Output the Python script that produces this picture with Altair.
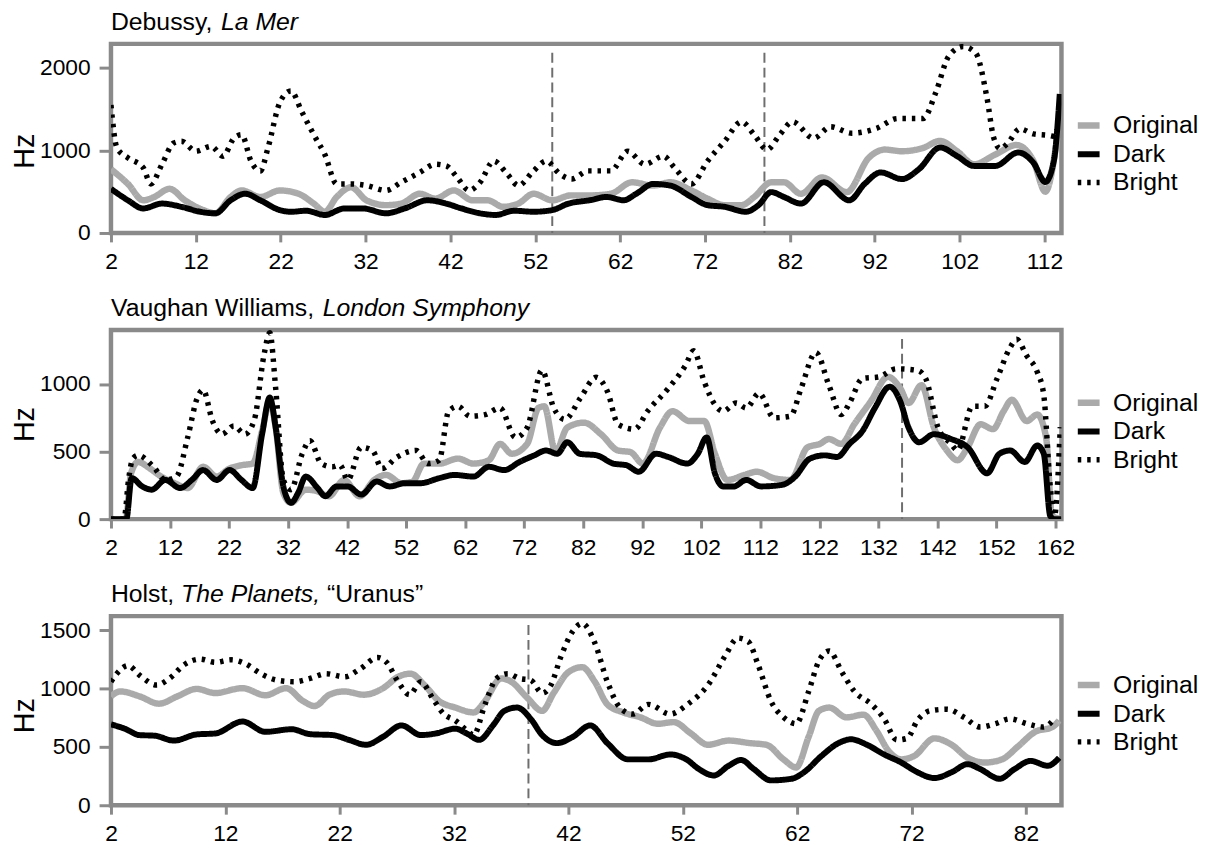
import altair as alt
import pandas as pd

SERIES = ["Original", "Dark", "Bright"]
COLORS = ["#aaaaaa", "#000000", "#000000"]
WIDTHS = [6.5, 5.5, 3.5]
DASHES = [[1, 0], [1, 0], [3.5, 6]]

# ---------------- Debussy, La Mer ----------------
P1_ORIG_X = [2, 4, 5.8, 7.1, 8.9, 10.7, 12.9, 14.3, 16.1, 17.4, 19.6, 21.9, 24.1, 25.9, 27.2, 28.6, 30.3, 32.1, 34.4, 36.2, 38.4, 40.2, 42.4, 44.6, 46.4, 48.2, 50, 51.8, 54, 56.2, 58.4, 60.9, 63.4, 65.9, 67.9, 70.4, 72.3, 74.3, 76.3, 77.8, 79.8, 81.3, 83.3, 85.8, 88.7, 91.3, 93.2, 95.2, 97.7, 99.7, 101.7, 103.7, 106.2, 108.7, 110.7, 112.1, 113.5]
P1_ORIG_Y = [772, 594, 396, 436, 535, 396, 277, 238, 436, 515, 436, 515, 475, 356, 257, 436, 554, 396, 337, 356, 475, 416, 515, 396, 396, 317, 356, 475, 396, 455, 455, 475, 614, 574, 614, 515, 416, 337, 337, 436, 614, 614, 475, 673, 495, 911, 1010, 990, 1030, 1115, 990, 832, 950, 1065, 871, 500, 1150]
P1_DARK_X = [2, 4, 5.8, 8, 10.3, 12.5, 14.3, 16.1, 17.8, 19.6, 21.9, 23.2, 25, 27.2, 29.5, 31.7, 34.4, 36.6, 39.3, 41.5, 43.3, 45.5, 47.3, 49.5, 51.8, 54, 55.9, 58.4, 60.4, 62.4, 63.9, 65.9, 67.9, 70.4, 72.3, 74.3, 76.8, 78.3, 79.8, 81.3, 83.3, 86, 89, 90.8, 92.7, 95.2, 97.2, 99.7, 101.7, 103.7, 106.2, 108.9, 110.7, 112.1, 113.1, 113.8]
P1_DARK_Y = [535, 396, 297, 356, 317, 257, 238, 396, 475, 396, 277, 257, 269, 218, 297, 297, 238, 297, 396, 356, 297, 238, 218, 269, 257, 277, 356, 396, 436, 396, 475, 594, 574, 436, 337, 317, 257, 337, 495, 436, 356, 614, 396, 594, 733, 653, 772, 1035, 931, 812, 812, 975, 850, 618, 871, 1683]
P1_BRIGHT_X = [2, 2.7, 4, 5.8, 6.7, 8, 9.4, 10.3, 12, 13.8, 15.2, 16.5, 17.4, 18.5, 19.6, 20.5, 21.9, 23.2, 24.5, 25.9, 27.2, 28.6, 30.3, 32.1, 34.4, 36.2, 38.4, 40.2, 41.5, 42.8, 44.2, 45.5, 47.1, 48.7, 50, 51.8, 53.3, 54.9, 56.3, 58.2, 60.9, 62.9, 64.9, 67.1, 68.4, 70.4, 72.3, 74.3, 76.3, 77.8, 79.3, 80.8, 82.3, 84.8, 86.8, 89.3, 92.2, 94.7, 97.7, 99.2, 100.7, 102.4, 103.9, 105.2, 106, 106.8, 107.6, 109.1, 110.7, 112.6, 113.8]
P1_BRIGHT_Y = [1550, 1030, 910, 790, 594, 830, 1090, 1110, 990, 1050, 930, 1150, 1190, 870, 750, 1030, 1580, 1720, 1465, 1190, 950, 594, 594, 575, 515, 614, 733, 832, 812, 673, 515, 614, 871, 713, 574, 752, 871, 713, 653, 752, 752, 990, 832, 930, 792, 594, 871, 1109, 1346, 1188, 1010, 1188, 1346, 1148, 1287, 1208, 1267, 1386, 1386, 1703, 2138, 2257, 2178, 1650, 1160, 1020, 1080, 1261, 1200, 1180, 1150]
P1_VLINES = [54, 79]

# ---------------- Vaughan Williams, London Symphony ----------------
P2_ORIG_X = [2, 4.5, 5.4, 6.6, 8.6, 10.5, 12.8, 15, 17.6, 19.9, 22.1, 24.1, 26, 27.6, 28.9, 29.9, 31.2, 32.5, 35, 37, 38.9, 41.5, 44.1, 46.6, 48.6, 51.2, 53.1, 55, 57.6, 60.8, 63.4, 66, 67.9, 69.9, 72.5, 74.4, 75.4, 77.3, 79.3, 82.1, 85, 87.9, 90, 92.1, 95, 97.1, 100, 102.5, 104.3, 106.4, 109.3, 111.4, 114.3, 117.1, 120, 122.1, 123.6, 125.7, 127.9, 130.7, 133.6, 135.7, 137.1, 139.3, 141.4, 143.6, 145.4, 147.1, 149.3, 151.4, 153.2, 154.6, 157.1, 158.9, 160.4, 161.4, 163]
P2_ORIG_Y = [0, 0, 339, 423, 375, 315, 266, 230, 387, 315, 375, 399, 411, 653, 871, 678, 194, 121, 218, 206, 169, 290, 169, 290, 327, 266, 278, 411, 411, 448, 411, 436, 557, 484, 557, 823, 835, 500, 678, 714, 629, 508, 496, 411, 678, 799, 726, 726, 484, 290, 327, 351, 303, 290, 532, 557, 593, 557, 702, 871, 1053, 968, 859, 992, 678, 508, 436, 532, 702, 666, 799, 883, 726, 774, 605, 24, 0]
P2_DARK_X = [2, 4.6, 5.5, 7.3, 8.9, 11.2, 13.7, 15.7, 17.6, 19.9, 22.1, 24.1, 26, 27.6, 28.9, 29.9, 31.2, 32.5, 33.7, 35, 37, 38.3, 40.2, 42.1, 44.4, 47, 49.2, 51.8, 54.4, 57.6, 60.2, 63.4, 66, 68.6, 71.2, 73.7, 75.7, 77.6, 79.3, 81.4, 84.3, 87.1, 89.3, 91.4, 94.3, 96.4, 99.6, 101.4, 102.9, 104.3, 105.7, 107.5, 109.6, 112.1, 115.7, 117.9, 120.4, 122.9, 125, 127.1, 129.3, 131.4, 133.9, 135.7, 137.1, 138.9, 141.4, 144.3, 147.1, 150.4, 152.5, 154.3, 156.8, 158.9, 160, 161.1, 161.8, 163]
P2_DARK_Y = [0, 0, 303, 242, 218, 290, 230, 290, 363, 290, 363, 290, 230, 629, 900, 678, 242, 121, 194, 315, 230, 169, 242, 242, 182, 278, 242, 266, 266, 303, 327, 315, 387, 363, 423, 472, 508, 484, 569, 484, 472, 411, 399, 351, 484, 460, 411, 484, 605, 339, 242, 242, 290, 242, 254, 315, 448, 472, 460, 557, 653, 823, 980, 871, 678, 569, 629, 593, 532, 339, 484, 508, 423, 545, 484, 24, 0, 0]
P2_BRIGHT_X = [2, 4.2, 5.0, 5.7, 6.6, 9.2, 11.2, 13.1, 15, 16.6, 17.6, 19.2, 20.8, 22.8, 24.7, 26.3, 27.9, 28.9, 29.9, 31.2, 32.5, 34.4, 35.7, 37.6, 39.5, 40.8, 42.1, 44.4, 46.3, 47.9, 50.5, 53.7, 55.7, 57.6, 59.2, 60.8, 62.8, 65.4, 67.9, 70.5, 72.5, 75, 77, 78.9, 81.5, 84.2, 86.1, 87.9, 90.7, 92.9, 96.4, 99.3, 100.7, 102.5, 104.3, 105.7, 107.9, 109.6, 111.8, 114.3, 117.1, 118.9, 121.4, 123.6, 125.7, 127.1, 129.3, 132.1, 135, 138.6, 140, 142.1, 144.3, 145.4, 147.9, 150, 152.1, 154.3, 155.4, 157.1, 158.9, 160, 161.1, 161.8, 162.8]
P2_BRIGHT_Y = [0, 0, 300, 448, 472, 387, 290, 315, 605, 895, 956, 726, 629, 690, 629, 738, 1210, 1379, 968, 290, 218, 484, 581, 411, 387, 400, 290, 532, 508, 375, 460, 508, 411, 436, 799, 835, 762, 774, 823, 605, 678, 1101, 823, 738, 895, 1050, 944, 702, 666, 799, 968, 1137, 1246, 1016, 847, 799, 859, 823, 932, 750, 762, 968, 1234, 992, 774, 859, 1041, 1053, 1113, 1101, 1041, 678, 557, 508, 835, 835, 1041, 1270, 1331, 1210, 1089, 920, 242, 24, 680]
P2_VLINES = [136]

# ---------------- Holst, The Planets, "Uranus" ----------------
P3_ORIG_X = [2, 2.8, 4.5, 6.2, 7.8, 9.5, 11.1, 13.5, 15.5, 17.3, 18.8, 19.8, 21.1, 22.4, 24.1, 25.8, 27.1, 28.2, 29.4, 30.7, 32.1, 33.7, 34.7, 36.1, 37, 38.4, 39.7, 40.7, 42, 43.2, 44.3, 45.4, 46.8, 48.3, 49.8, 51.2, 52.7, 54.2, 56, 57.9, 59.3, 60.8, 61.9, 63, 63.9, 64.8, 66.3, 67.8, 68.9, 70, 71.1, 72.2, 74, 75.5, 76.9, 78.4, 79.9, 81.3, 82.8, 84.3, 84.9]
P3_ORIG_Y = [933, 975, 933, 870, 933, 997, 961, 1003, 942, 1003, 892, 850, 947, 975, 947, 1003, 1100, 1127, 1030, 892, 837, 795, 892, 1086, 1058, 920, 809, 961, 1141, 1183, 1058, 864, 795, 753, 698, 712, 615, 518, 554, 532, 518, 393, 324, 587, 809, 837, 753, 776, 643, 463, 393, 421, 573, 518, 407, 366, 393, 504, 629, 670, 726]
P3_DARK_X = [2, 3.2, 4.5, 5.8, 7.5, 9.5, 11.1, 13.5, 15.5, 17.8, 19.4, 21.4, 22.8, 24.3, 25.8, 27.4, 29.1, 30.4, 32.1, 33.1, 34.2, 35.4, 36.4, 37.5, 38.7, 39.7, 41, 42.4, 43.9, 45.4, 47.2, 49, 50.9, 52.3, 53.4, 54.7, 56, 57.1, 58.2, 59.7, 61.5, 62.6, 64.1, 65.6, 66.7, 68.1, 69.6, 71.1, 72.5, 74, 75.5, 76.9, 78, 79.7, 81, 82.4, 83.9, 84.9]
P3_DARK_Y = [693, 656, 601, 596, 554, 607, 615, 717, 629, 651, 609, 601, 560, 518, 587, 684, 601, 615, 656, 615, 560, 684, 809, 837, 740, 601, 532, 587, 684, 532, 393, 393, 435, 393, 310, 255, 338, 388, 310, 213, 227, 283, 421, 532, 565, 518, 435, 366, 283, 233, 283, 352, 310, 227, 310, 380, 338, 407]
P3_BRIGHT_X = [2, 2.5, 3.5, 4.5, 6, 7.1, 8.5, 9.8, 11.1, 12.5, 13.8, 15.1, 16.5, 18.1, 19.4, 20.8, 22.4, 23.8, 25.3, 26.1, 27.1, 28.1, 29.1, 30.1, 31.1, 32.1, 33.1, 33.7, 34.7, 35.7, 36.7, 37.7, 38.7, 39.7, 40.4, 41.4, 42.4, 43.2, 44.3, 45.4, 46.5, 47.6, 49, 50.9, 52.4, 54.2, 55.7, 56.8, 57.7, 58.6, 59.7, 60.8, 61.9, 63, 63.9, 64.8, 65.9, 67, 68.5, 69.6, 70.7, 71.6, 72.5, 73.6, 75.1, 76.6, 78, 79.3, 80.6, 82.1, 83.5, 84.6]
P3_BRIGHT_Y = [1058, 1127, 1197, 1114, 1030, 1086, 1210, 1252, 1224, 1246, 1210, 1127, 1072, 1058, 1086, 1127, 1100, 1169, 1266, 1224, 1058, 947, 1058, 920, 781, 726, 643, 601, 864, 1086, 1127, 1086, 1072, 961, 1017, 1290, 1495, 1557, 1391, 1058, 837, 781, 864, 781, 864, 1030, 1280, 1432, 1404, 1197, 892, 753, 698, 975, 1238, 1321, 1141, 975, 864, 740, 560, 573, 726, 809, 823, 753, 670, 698, 740, 698, 670, 753]
P3_VLINES = [38.5]

P1_XTICKS = [2, 12, 22, 32, 42, 52, 62, 72, 82, 92, 102, 112]
P2_XTICKS = [2, 12, 22, 32, 42, 52, 62, 72, 82, 92, 102, 112, 122, 132, 142, 152, 162]
P3_XTICKS = [2, 12, 22, 32, 42, 52, 62, 72, 82]
P1_YTICKS = [0, 1000, 2000]
P2_YTICKS = [0, 500, 1000]
P3_YTICKS = [0, 500, 1000, 1500]

FONT = "Liberation Sans"
W, H = 960, 191
TITLE_SIZE = 25


def make_df(ox, oy, dx, dy, bx, by):
    rows = []
    for name, xs, ys in (("Original", ox, oy), ("Dark", dx, dy), ("Bright", bx, by)):
        for a, b in zip(xs, ys):
            rows.append({"m": a, "hz": b, "series": name})
    return pd.DataFrame(rows)


def panel(title_parts, df, vlines, xdom, xticks, ydom, yticks, title_y, legend_y):
    legend = alt.Legend(title=None, orient="none", legendX=973, legendY=legend_y,
                        labelFontSize=25, labelFont=FONT, labelColor="black",
                        symbolType="stroke", symbolSize=484, labelOffset=10,
                        rowPadding=1.5, padding=0)
    x = alt.X("m:Q", scale=alt.Scale(domain=xdom, nice=False, zero=False),
              axis=alt.Axis(values=xticks, title=None, tickSize=9, labelPadding=9,
                            labelFlush=False, labelOverlap=False, format="d"))
    y = alt.Y("hz:Q", scale=alt.Scale(domain=ydom, nice=False, zero=True),
              axis=alt.Axis(values=yticks, title="Hz", tickSize=12, labelPadding=9,
                            titlePadding=0, titleY=title_y, format="d"))
    enc = dict(
        x=x, y=y,
        color=alt.Color("series:N", scale=alt.Scale(domain=SERIES, range=COLORS), legend=legend),
        strokeDash=alt.StrokeDash("series:N", scale=alt.Scale(domain=SERIES, range=DASHES), legend=legend),
        strokeWidth=alt.StrokeWidth("series:N", scale=alt.Scale(domain=SERIES, range=WIDTHS), legend=legend),
    )
    base = alt.Chart(df)
    layers = []
    for s in SERIES:
        layers.append(
            base.transform_filter(alt.datum.series == s)
            .mark_line(interpolate="monotone", strokeJoin="round", clip=True)
            .encode(**enc)
        )
    rules = alt.Chart(pd.DataFrame({"m": vlines})).mark_rule(
        color="#6e6e6e", strokeWidth=2, strokeDash=[10, 5]
    ).encode(x=alt.X("m:Q"), y=alt.value(9), y2=alt.value(H))
    texts = []
    for txt, xo, italic in title_parts:
        texts.append(
            alt.Chart(pd.DataFrame({"t": [txt]})).mark_text(
                align="left", baseline="alphabetic", fontSize=TITLE_SIZE, font=FONT,
                fontStyle="italic" if italic else "normal", color="black"
            ).encode(text="t:N", x=alt.value(xo), y=alt.value(-14))
        )
    return alt.layer(rules, *layers, *texts).properties(width=W, height=H)


em = TITLE_SIZE / 1000.0
p1 = panel([("Debussy,", 0, False), ("La Mer", 4446 * em, True)],
           make_df(P1_ORIG_X, P1_ORIG_Y, P1_DARK_X, P1_DARK_Y, P1_BRIGHT_X, P1_BRIGHT_Y),
           P1_VLINES, [2, 114], P1_XTICKS, [0, 2290], P1_YTICKS, 108, 68)
p2 = panel([("Vaughan Williams,", 0, False), ("London Symphony", 8558 * em, True)],
           make_df(P2_ORIG_X, P2_ORIG_Y, P2_DARK_X, P2_DARK_Y, P2_BRIGHT_X, P2_BRIGHT_Y),
           P2_VLINES, [2, 163], P2_XTICKS, [0, 1400], P2_YTICKS, 95, 59)
p3 = panel([("Holst,", 0, False), ("The Planets,", 2834 * em, True), ("\u201cUranus\u201d", 8726 * em, False)],
           make_df(P3_ORIG_X, P3_ORIG_Y, P3_DARK_X, P3_DARK_Y, P3_BRIGHT_X, P3_BRIGHT_Y),
           P3_VLINES, [2, 85.1], P3_XTICKS, [0, 1620], P3_YTICKS, 100, 55)

chart = alt.vconcat(p1, p2, p3, spacing=17).resolve_scale(
    x="independent", y="independent", color="independent",
    strokeDash="independent", strokeWidth="independent"
).resolve_legend(color="independent", strokeDash="independent", strokeWidth="independent").properties(
    padding={"left": 0, "top": -5, "right": 5, "bottom": 0}
).configure_view(
    stroke="#8a8a8a", strokeWidth=4.5
).configure_axis(
    labelFont=FONT, labelFontSize=23, labelColor="black", tickColor="#8a8a8a",
    tickWidth=3, grid=False, domain=False, titleFont=FONT, titleFontSize=29,
    titleFontWeight="normal", titleColor="black"
)

chart.save("out.html", embed_options={"renderer": "svg", "actions": False})
